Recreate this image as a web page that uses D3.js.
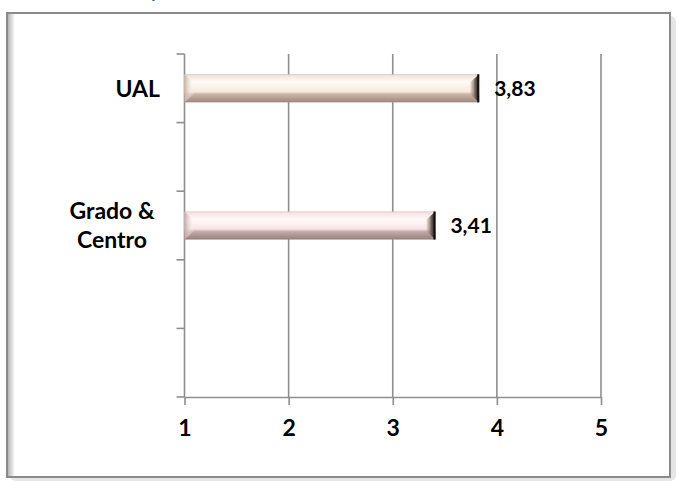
<!DOCTYPE html>
<html>
<head>
<meta charset="utf-8">
<script src="https://cdn.jsdelivr.net/npm/d3@7"></script>
<style>
  body { margin: 0; background: #fff; }
  svg { display: block; }
</style>
</head>
<body>
<svg id="chart"></svg>
<script>
// chart data
const categories = ["UAL", "", "Grado & Centro", "", ""];
const values = [3.83, null, 3.41, null, null];
const xTicks = [1, 2, 3, 4, 5];
const xDomain = [1, 5];

// bar colours per category
const barPalette = {
  0: { top: "#d8c2b2", light: "#fffaf5", mid: "#f6e8dd", low: "#c9b3a4", edge: "#9c887b" },
  2: { top: "#dcc6c5", light: "#fff8f8", mid: "#f6e6e6", low: "#c2aaaa", edge: "#98807f" }
};

const W = 677, H = 481;
const plot = { left: 184.5, right: 601, top: 54, bottom: 397 };
const gridColor = "#8e8e8e";
const font = "Lato, 'Open Sans', sans-serif";

const comma = d3.formatLocale({ decimal: ",", thousands: ".", grouping: [3], currency: ["", "€"] }).format(".2f");

const svg = d3.select("#chart").attr("width", W).attr("height", H);
const defs = svg.append("defs");

// cut-off blue title above the frame
svg.append("text")
  .attr("x", 150).attr("y", -2)
  .attr("font-family", font).attr("font-weight", "bold").attr("font-size", 18)
  .attr("fill", "#1f5fa8")
  .text("y");

// chart area frame with shadow
const frameGrad = defs.append("linearGradient").attr("id", "frameLeft")
  .attr("x1", 0).attr("x2", 1).attr("y1", 0).attr("y2", 0);
frameGrad.append("stop").attr("offset", 0).attr("stop-color", "#b5b5b5");
frameGrad.append("stop").attr("offset", 1).attr("stop-color", "#ffffff");

svg.append("rect").attr("x", 10).attr("y", 16).attr("width", 666).attr("height", 465)
  .attr("rx", 6).attr("fill", "#e6e6e6");
svg.append("rect").attr("x", 7).attr("y", 13).attr("width", 663).attr("height", 464)
  .attr("fill", "#fff").attr("stroke", "#8a8a8a").attr("stroke-width", 2);
svg.append("rect").attr("x", 8).attr("y", 14).attr("width", 7).attr("height", 462)
  .attr("fill", "url(#frameLeft)");

// scales
const x = d3.scaleLinear().domain(xDomain).range([plot.left, plot.right]);
const y = d3.scaleBand().domain(d3.range(categories.length)).range([plot.top, plot.bottom]).padding(0);
const barH = y.bandwidth() * 0.41;

const g = svg.append("g");

// vertical gridlines
g.append("g").selectAll("line")
  .data(xTicks.filter(d => d !== xDomain[0]))
  .join("line")
  .attr("x1", d => x(d)).attr("x2", d => x(d))
  .attr("y1", plot.top).attr("y2", plot.bottom)
  .attr("stroke", gridColor).attr("stroke-width", 1.6);

// x axis
const xAxis = d3.axisBottom(x).tickValues(xTicks).tickSize(8).tickSizeOuter(0).tickPadding(15)
  .tickFormat(d3.format("d"));
const xa = g.append("g").attr("transform", `translate(0,${plot.bottom})`).call(xAxis);
xa.select(".domain").attr("stroke", gridColor).attr("stroke-width", 1.6);
xa.selectAll(".tick line").attr("stroke", gridColor).attr("stroke-width", 1.6);
xa.selectAll(".tick text")
  .attr("font-family", font).attr("font-weight", "bold").attr("font-size", 23).attr("fill", "#000");

// y axis: line plus ticks between categories
const bounds = y.domain().map(i => y(i)).concat([y.range()[1]]);
g.append("line")
  .attr("x1", plot.left).attr("x2", plot.left)
  .attr("y1", plot.top).attr("y2", plot.bottom)
  .attr("stroke", gridColor).attr("stroke-width", 1.6);
g.append("g").selectAll("line")
  .data(bounds)
  .join("line")
  .attr("x1", plot.left - 8).attr("x2", plot.left)
  .attr("y1", d => d).attr("y2", d => d)
  .attr("stroke", gridColor).attr("stroke-width", 1.6);

// category labels (wrapped when long)
const catG = g.append("g")
  .attr("font-family", font).attr("font-weight", "bold").attr("font-size", 23).attr("fill", "#000");
categories.forEach((c, i) => {
  if (!c) return;
  const cy = y(i) + y.bandwidth() / 2;
  const words = c.split(" ");
  let lines = [c];
  if (words.length > 2) {
    const cut = Math.ceil(words.length / 2);
    lines = [words.slice(0, cut).join(" "), words.slice(cut).join(" ")];
  }
  const lh = 29;
  const anchorX = lines.length > 1 ? 112 : 160;
  catG.append("text")
    .attr("x", anchorX)
    .attr("text-anchor", lines.length > 1 ? "middle" : "end")
    .selectAll("tspan")
    .data(lines)
    .join("tspan")
    .attr("x", anchorX)
    .attr("y", (d, k) => cy + (k - (lines.length - 1) / 2) * lh)
    .attr("dy", "0.36em")
    .text(d => d);
});

// bevelled bars
const bev = 9;
values.forEach((v, i) => {
  if (v == null) return;
  const p = barPalette[i];
  const id = "bar" + i;
  const vg = defs.append("linearGradient").attr("id", id + "v")
    .attr("x1", 0).attr("x2", 0).attr("y1", 0).attr("y2", 1);
  [[0, p.top], [0.06, p.mid], [0.3, p.light], [0.62, p.mid], [0.72, p.low], [1, p.edge]]
    .forEach(s => vg.append("stop").attr("offset", s[0]).attr("stop-color", s[1]));
  const lg = defs.append("linearGradient").attr("id", id + "l")
    .attr("x1", 0).attr("x2", 1).attr("y1", 0).attr("y2", 0);
  lg.append("stop").attr("offset", 0).attr("stop-color", p.low);
  lg.append("stop").attr("offset", 1).attr("stop-color", p.light).attr("stop-opacity", 0.2);
  const rg = defs.append("linearGradient").attr("id", id + "r")
    .attr("x1", 0).attr("x2", 1).attr("y1", 0).attr("y2", 0);
  rg.append("stop").attr("offset", 0).attr("stop-color", p.low).attr("stop-opacity", 0.3);
  rg.append("stop").attr("offset", 0.55).attr("stop-color", "#6e6058");
  rg.append("stop").attr("offset", 1).attr("stop-color", "#1b1512");

  const x0 = x(xDomain[0]), x1 = x(v);
  const y0 = y(i) + (y.bandwidth() - barH) / 2, y1 = y0 + barH;

  g.append("rect")
    .attr("x", x0).attr("y", y0).attr("width", x1 - x0).attr("height", barH)
    .attr("fill", `url(#${id}v)`);
  g.append("polygon")
    .attr("points", [[x0, y0], [x0 + bev, y0 + bev * 0.9], [x0 + bev, y1 - bev * 0.9], [x0, y1]].join(" "))
    .attr("fill", `url(#${id}l)`);
  g.append("polygon")
    .attr("points", [[x1, y0], [x1 - bev, y0 + bev * 0.9], [x1 - bev, y1 - bev * 0.9], [x1, y1]].join(" "))
    .attr("fill", `url(#${id}r)`);
  g.append("line")
    .attr("x1", x1 - 1).attr("x2", x1 - 1).attr("y1", y0).attr("y2", y1)
    .attr("stroke", "#14100e").attr("stroke-width", 2);

  g.append("text")
    .attr("x", x1 + 15).attr("y", y0 + barH / 2).attr("dy", "0.36em")
    .attr("font-family", font).attr("font-weight", "bold").attr("font-size", 21).attr("fill", "#000")
    .text(comma(v));
});
</script>
</body>
</html>
